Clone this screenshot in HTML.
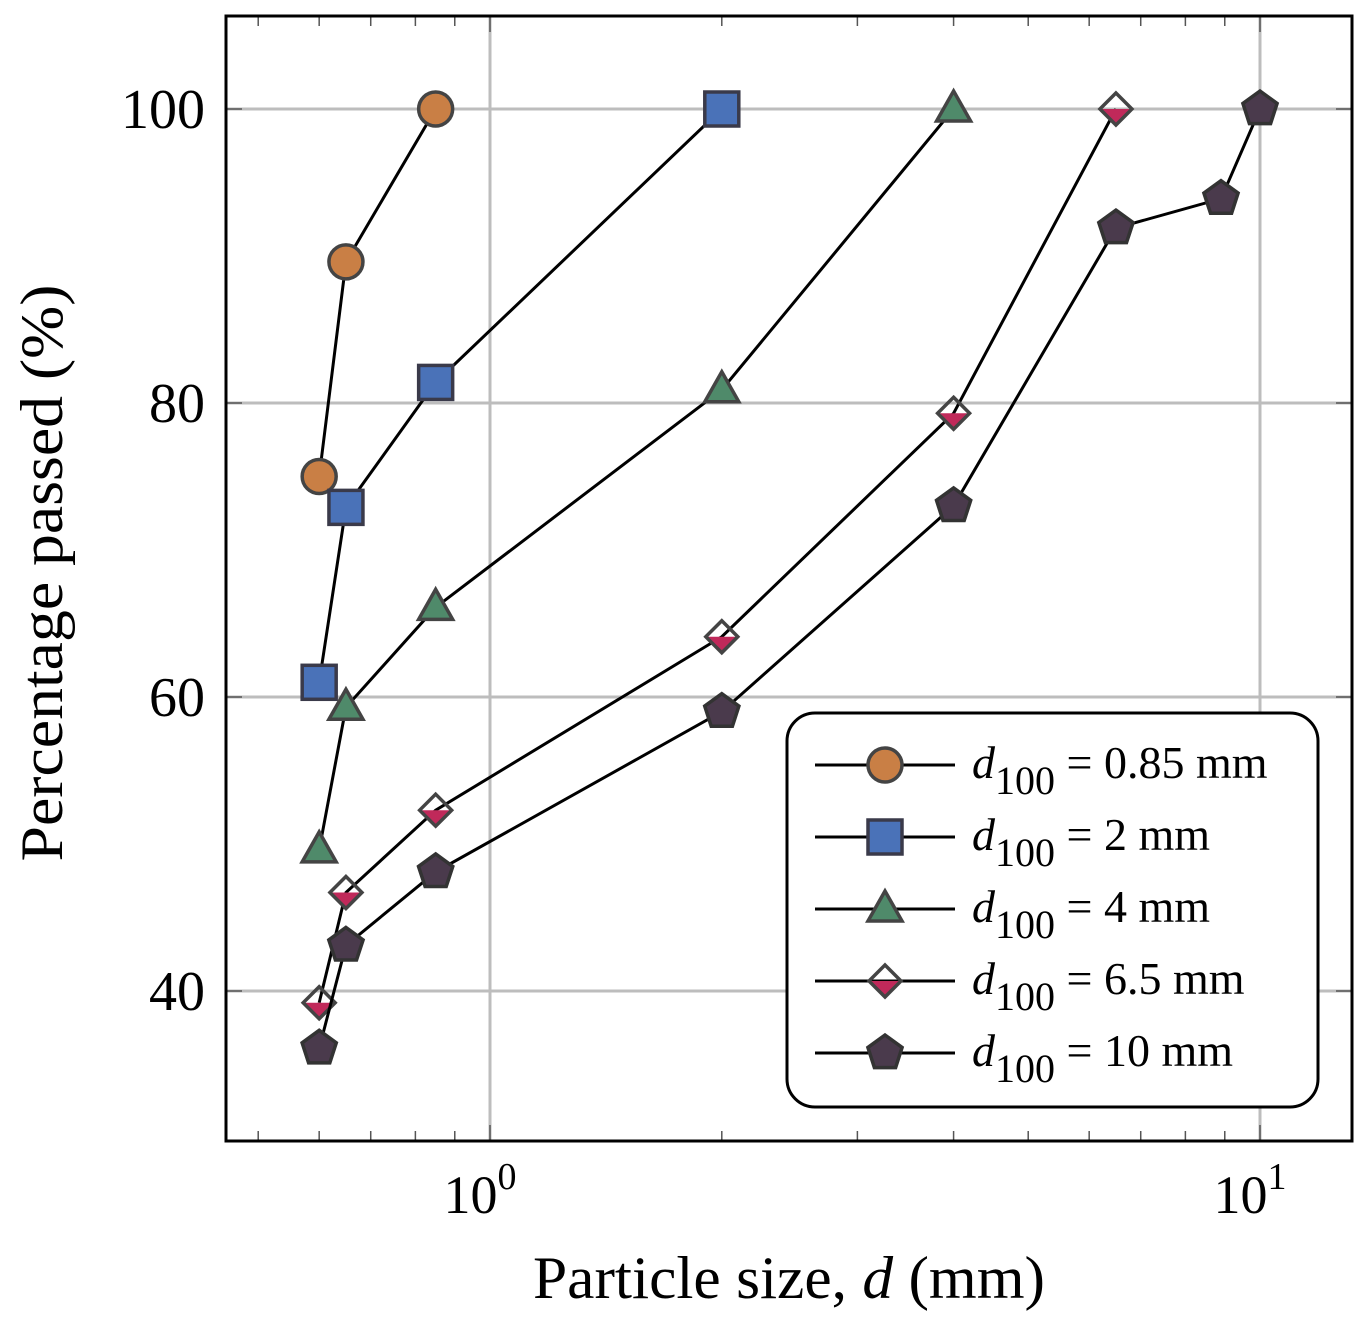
<!DOCTYPE html>
<html><head><meta charset="utf-8"><style>
body{margin:0;background:#fff}
svg text{font-family:"Liberation Serif",serif;fill:#000}
</style></head><body>
<svg id="chart" width="1367" height="1320" xmlns="http://www.w3.org/2000/svg"></svg>
<script>
const seriesNames=["d100 = 0.85 mm","d100 = 2 mm","d100 = 4 mm","d100 = 6.5 mm","d100 = 10 mm"];
const legendValues=["0.85 mm","2 mm","4 mm","6.5 mm","10 mm"];
const s1x=[0.6,0.65,0.85], s1y=[75,89.6,100];
const s2x=[0.6,0.65,0.85,2], s2y=[61,72.9,81.4,100];
const s3x=[0.6,0.65,0.85,2,4], s3y=[49.6,59.3,66.1,80.9,100];
const s4x=[0.6,0.65,0.85,2,4,6.5], s4y=[39.2,46.7,52.3,64.1,79.3,100];
const s5x=[0.6,0.65,0.85,2,4,6.5,8.9,10], s5y=[36.1,43.1,48.1,59.0,73.0,91.9,93.9,100];
const yTicks=[40,60,80,100];
const xMajor=[1,10];
const xMajorLabels=["0","1"];
const xMinor=[0.5,0.6,0.7,0.8,0.9,2,3,4,5,6,7,8,9];

const L=226,R=1352,T=16,B=1141;
const X=v=>490+Math.log10(v)*770;
const Y=v=>109+(100-v)*14.7;
const svg=document.getElementById('chart');
const NS="http://www.w3.org/2000/svg";
function mk(tag,attrs,parent){const e=document.createElementNS(NS,tag);for(const k in attrs)e.setAttribute(k,attrs[k]);(parent||svg).appendChild(e);return e;}

xMajor.forEach(v=>{const g=mk('line',{x1:X(v),x2:X(v),y1:T,y2:B,stroke:'#bdbdbd','stroke-width':3});

});
yTicks.forEach(v=>{const g=mk('line',{x1:L,x2:R,y1:Y(v),y2:Y(v),stroke:'#bdbdbd','stroke-width':3});

});
xMinor.forEach(v=>{[[B,B-10],[T,T+10]].forEach(p=>{const t=mk('line',{x1:X(v),x2:X(v),y1:p[0],y2:p[1],stroke:'#555','stroke-width':1.5});

});});
xMajor.forEach((v,i)=>{[[B,B-16],[T,T+16]].forEach(p=>{const t=mk('line',{x1:X(v),x2:X(v),y1:p[0],y2:p[1],stroke:'#555','stroke-width':1.5});

});
const tx=mk('text',{x:X(v)-10,y:1213,'font-size':54,'text-anchor':'middle'});


tx.innerHTML='10<tspan dy="-24" font-size="38">'+xMajorLabels[i]+'</tspan>';});
yTicks.forEach(v=>{[[L,L+16],[R,R-16]].forEach(p=>{const t=mk('line',{x1:p[0],x2:p[1],y1:Y(v),y2:Y(v),stroke:'#555','stroke-width':1.5});

});
const tx=mk('text',{x:205,y:Y(v)+19,'font-size':56,'text-anchor':'end'});


tx.textContent=v;});
const fr=mk('rect',{x:L,y:T,width:R-L,height:B-T,fill:'none',stroke:'#000','stroke-width':3});


const xt=mk('text',{x:533,y:1298,'font-size':60,textLength:512,lengthAdjust:'spacingAndGlyphs'});


xt.innerHTML='Particle size, <tspan font-style="italic">d</tspan> (mm)';
const yt=mk('text',{x:0,y:0,'font-size':60,'text-anchor':'middle',textLength:577,lengthAdjust:'spacingAndGlyphs',transform:'translate(62,573) rotate(-90)'});


yt.textContent='Percentage passed (%)';

function marker(kind,cx,cy,g){
  let e;
  if(kind===0){e=mk('circle',{cx,cy,r:17,fill:'#c97f45',stroke:'#444','stroke-width':3.5},g);}
  else if(kind===1){e=mk('rect',{x:cx-17,y:cy-17,width:34,height:34,fill:'#4a72b8',stroke:'#3a3a4a','stroke-width':3.5},g);}
  else if(kind===2){e=mk('polygon',{points:`${cx},${cy-18} ${cx+17},${cy+12} ${cx-17},${cy+12}`,fill:'#4f8a6a',stroke:'#444','stroke-width':3.5},g);}
  else if(kind===3){mk('polygon',{points:`${cx-16},${cy} ${cx+16},${cy} ${cx},${cy+16}`,fill:'#c0295a'},g);
    e=mk('polygon',{points:`${cx},${cy-16} ${cx+16},${cy} ${cx},${cy+16} ${cx-16},${cy}`,fill:'none',stroke:'#444','stroke-width':3.5},g);}
  else {let p=[];for(let i=0;i<5;i++){const a=-Math.PI/2+i*2*Math.PI/5;p.push((cx+18*Math.cos(a)).toFixed(1)+','+(cy+18*Math.sin(a)).toFixed(1));}
    e=mk('polygon',{points:p.join(' '),fill:'#4a3a4c',stroke:'#333','stroke-width':3.5},g);}
  return e;
}
const all=[[s1x,s1y],[s2x,s2y],[s3x,s3y],[s4x,s4y],[s5x,s5y]];
all.forEach((s,k)=>{
  const g=mk('g',{});
  
  
  const pl=mk('polyline',{points:s[0].map((x,i)=>X(x)+','+Y(s[1][i])).join(' '),fill:'none',stroke:'#000','stroke-width':3},g);
  
  
  s[0].forEach((x,i)=>{const m=marker(k,X(x),Y(s[1][i]),g);
    
    });
});
const lg=mk('g',{});


mk('rect',{x:787,y:713,width:531,height:394,rx:28,fill:'#fff',stroke:'#000','stroke-width':3},lg);
legendValues.forEach((v,k)=>{
  const y=765+k*72;
  const e=mk('g',{},lg);
  
  
  mk('line',{x1:815,x2:955,y1:y,y2:y,stroke:'#000','stroke-width':3},e);
  marker(k,885,y,e);
  const t=mk('text',{x:972,y:y+13,'font-size':46},e);
  t.innerHTML='<tspan font-style="italic">d</tspan><tspan dy="16" font-size="40">100</tspan><tspan dy="-16"> = '+v+'</tspan>';
});
</script>
</body></html>
